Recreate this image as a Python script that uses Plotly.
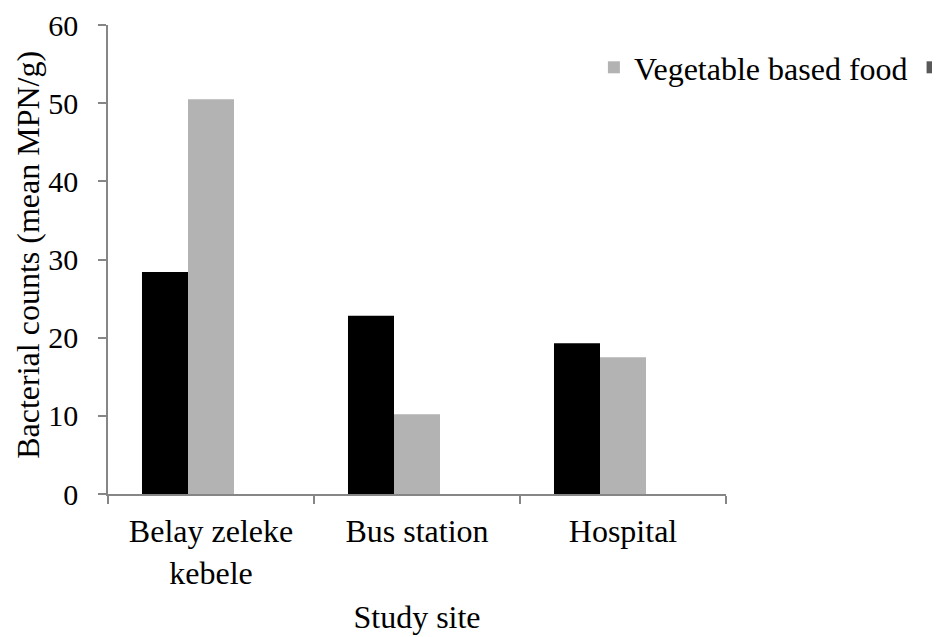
import plotly.graph_objects as go

categories = ["Belay zeleke<br>kebele", "Bus station", "Hospital"]
series1_name = "Meat based food"
series1_values = [28.4, 22.8, 19.3]
series2_name = "Vegetable based food"
series2_values = [50.5, 10.2, 17.5]
series3_name = " "
series3_values = [0, 0, 0]
y_title = "Bacterial counts (mean MPN/g)"
x_title = "Study site"

FONT = "Liberation Serif, Times New Roman, serif"
AXIS_COLOR = "#868686"

fig = go.Figure()
fig.add_trace(go.Bar(x=categories, y=series1_values, name=series1_name,
                     marker=dict(color="#000000", line=dict(width=0)), showlegend=False))
fig.add_trace(go.Bar(x=categories, y=series2_values, name=series2_name,
                     marker=dict(color="#b3b3b3", line=dict(width=0))))
fig.add_trace(go.Bar(x=categories, y=series3_values, name=series3_name,
                     marker=dict(color="#595959", line=dict(width=0))))

fig.add_annotation(text=y_title, textangle=-90, xref="paper", yref="paper",
                   x=-0.1295, y=0.51, xanchor="center", yanchor="middle",
                   showarrow=False, font=dict(family=FONT, size=32, color="#000000"))

fig.update_layout(
    width=940, height=637,
    margin=dict(l=100, r=222, t=17, b=151, autoexpand=False),
    paper_bgcolor="white", plot_bgcolor="white",
    font=dict(family=FONT, size=32, color="#000000"),
    barmode="group", bargap=0.33, bargroupgap=0,
    legend=dict(orientation="h", xref="container", yref="container",
                x=0.6233, y=1 - 32 / 637, xanchor="left", yanchor="top",
                font=dict(family=FONT, size=32), bgcolor="rgba(0,0,0,0)",
                itemclick=False, tracegroupgap=0),
    xaxis=dict(showline=True, linecolor=AXIS_COLOR, linewidth=1.5,
               ticks="outside", tickson="boundaries", ticklen=8, tickcolor=AXIS_COLOR,
               tickwidth=1.5, showgrid=False, zeroline=False, ticklabelstandoff=8,
               tickfont=dict(family=FONT, size=32),
               title=dict(text=x_title, standoff=16,
                          font=dict(family=FONT, size=32))),
    yaxis=dict(range=[0, 60], dtick=10, showline=True, linecolor=AXIS_COLOR, linewidth=1.5,
               ticks="outside", ticklen=8, tickcolor=AXIS_COLOR, tickwidth=1.5,
               showgrid=False, zeroline=False, ticklabelstandoff=14,
               tickfont=dict(family=FONT, size=30)),
)

fig.write_html("out.html")
